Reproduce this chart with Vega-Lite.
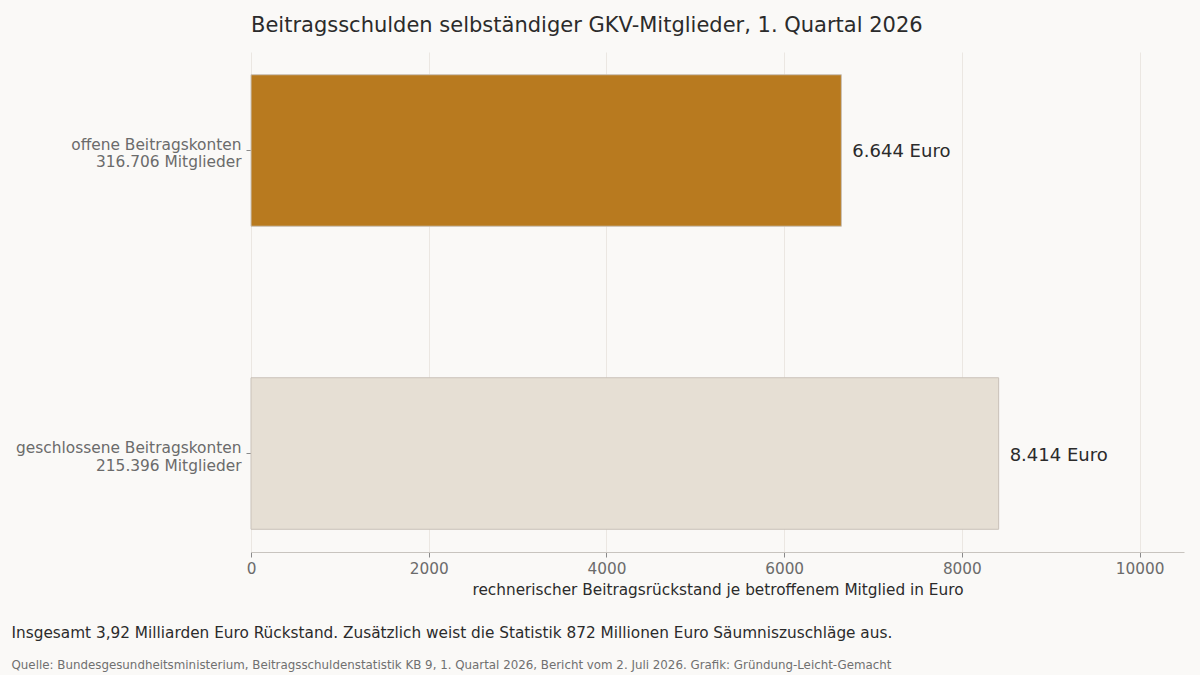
{
  "$schema": "https://vega.github.io/schema/vega-lite/v6.json",
  "background": "#faf9f7",
  "padding": {"left": 11, "top": 15, "right": 16, "bottom": 6},
  "config": {
    "font": "DejaVu Sans",
    "view": {"stroke": null}
  },
  "title": {
    "text": "Insgesamt 3,92 Milliarden Euro Rückstand. Zusätzlich weist die Statistik 872 Millionen Euro Säumniszuschläge aus.",
    "subtitle": "Quelle: Bundesgesundheitsministerium, Beitragsschuldenstatistik KB 9, 1. Quartal 2026, Bericht vom 2. Juli 2026. Grafik: Gründung-Leicht-Gemacht",
    "orient": "bottom",
    "anchor": "start",
    "dx": -4,
    "offset": 28,
    "fontSize": 15.3,
    "fontWeight": "normal",
    "color": "#2b2b2b",
    "subtitleFontSize": 11.85,
    "subtitleColor": "#707070",
    "subtitlePadding": 19
  },
  "vconcat": [
    {
      "width": 933,
      "height": 500,
      "title": {
        "text": "Beitragsschulden selbständiger GKV-Mitglieder, 1. Quartal 2026",
        "anchor": "start",
        "frame": "group",
        "fontSize": 21,
        "fontWeight": "normal",
        "color": "#2b2b2b",
        "offset": 16
      },
      "data": {
        "values": [
          {"gruppe": "offene Beitragskonten|316.706 Mitglieder", "status": "offen", "euro": 6644, "beschriftung": "6.644 Euro"},
          {"gruppe": "geschlossene Beitragskonten|215.396 Mitglieder", "status": "geschlossen", "euro": 8414, "beschriftung": "8.414 Euro"}
        ]
      },
      "encoding": {
        "y": {
          "field": "gruppe",
          "type": "nominal",
          "sort": null,
          "title": null,
          "scale": {"paddingInner": 0.5, "paddingOuter": 0.075},
          "axis": {
            "domain": false,
            "ticks": true,
            "tickSize": 5,
            "tickColor": "#8a8a8a",
            "labelExpr": "split(datum.label, '|')",
            "labelFontSize": 15.4,
            "labelColor": "#6b6b6b",
            "labelLineHeight": 17.5,
            "labelOffset": -5.5,
            "labelPadding": 5,
            "labelLimit": 400
          }
        },
        "x": {
          "field": "euro",
          "type": "quantitative",
          "title": "rechnerischer Beitragsrückstand je betroffenem Mitglied in Euro",
          "scale": {"domain": [0, 10500], "nice": false},
          "axis": {
            "values": [0, 2000, 4000, 6000, 8000, 10000],
            "format": "d",
            "grid": true,
            "gridColor": "#ebe7e2",
            "domainColor": "#c8c4bf",
            "tickColor": "#8a8a8a",
            "tickSize": 5,
            "labelFlush": false,
            "labelFontSize": 15.3,
            "labelColor": "#6b6b6b",
            "labelPadding": 4,
            "titleFontSize": 15.3,
            "titleFontWeight": "normal",
            "titleColor": "#2b2b2b",
            "titlePadding": 6
          }
        }
      },
      "layer": [
        {
          "mark": {"type": "bar", "stroke": "#c9c1b8", "strokeWidth": 1},
          "encoding": {
            "color": {
              "field": "status",
              "type": "nominal",
              "scale": {"domain": ["offen", "geschlossen"], "range": ["#b87a1f", "#e6dfd4"]},
              "legend": null
            }
          }
        },
        {
          "mark": {"type": "text", "align": "left", "baseline": "middle", "dx": 11, "dy": 2, "fontSize": 18, "color": "#2b2b2b"},
          "encoding": {
            "text": {"field": "beschriftung"}
          }
        }
      ]
    }
  ]
}
